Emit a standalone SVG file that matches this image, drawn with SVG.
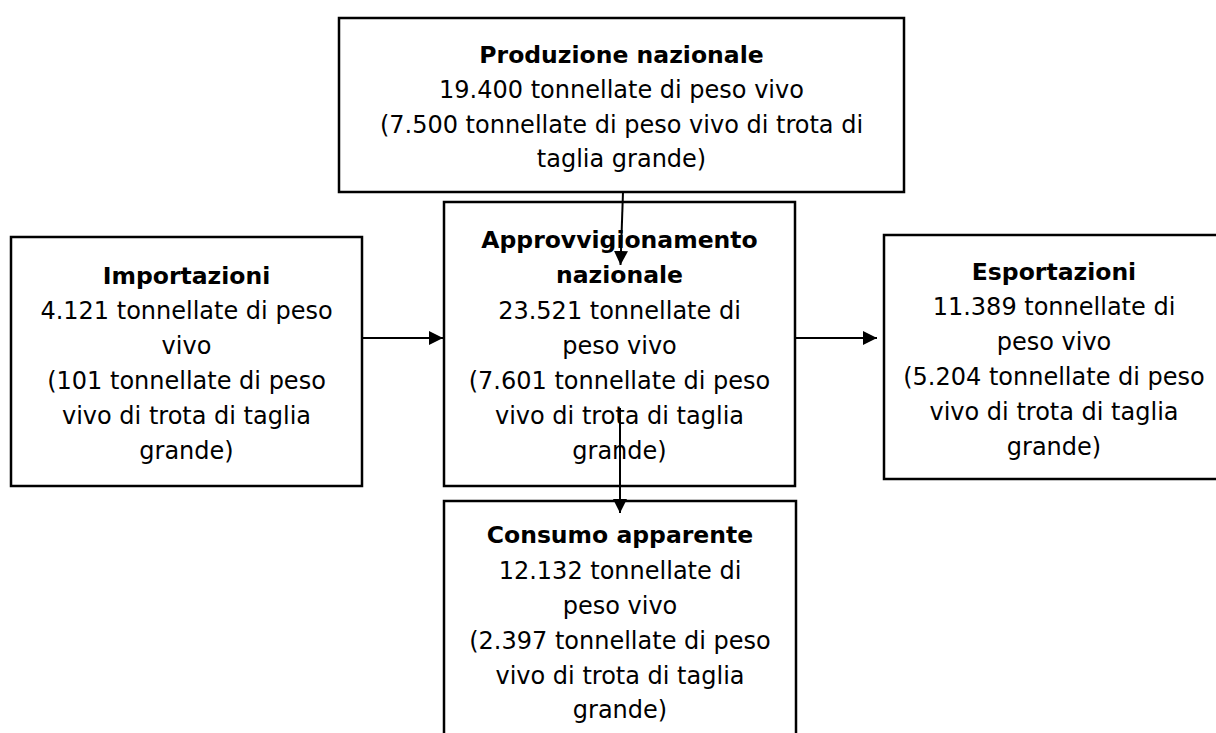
<svg xmlns="http://www.w3.org/2000/svg" width="1216" height="733" viewBox="0 0 1216 733">
<defs>
<style>
.box{fill:#ffffff;stroke:#000000;stroke-width:2.5}
.t{font-family:"DejaVu Sans",sans-serif;font-size:24px;fill:#000;text-anchor:middle}
.b{font-weight:bold;font-size:23.5px}
.c{stroke:#000;stroke-width:2;fill:none}
</style>
<marker id="ah" viewBox="0 0 10 10" refX="10" refY="5" markerWidth="7" markerHeight="7" markerUnits="strokeWidth" orient="auto">
<path d="M0,0 L10,5 L0,10 z" fill="#000"/>
</marker>
</defs>
<rect width="1216" height="733" fill="#ffffff"/>
<g id="produzione">
<rect class="box" x="339" y="18" width="565" height="174"/>
<text class="t b" x="621.5" y="63">Produzione nazionale</text>
<text class="t" x="621.5" y="98">19.400 tonnellate di peso vivo</text>
<text class="t" x="621.5" y="133">(7.500 tonnellate di peso vivo di trota di</text>
<text class="t" x="621.5" y="167">taglia grande)</text>
</g>
<g id="importazioni">
<rect class="box" x="11" y="237" width="351" height="249"/>
<text class="t b" x="186.5" y="284">Importazioni</text>
<text class="t" x="186.5" y="319">4.121 tonnellate di peso</text>
<text class="t" x="186.5" y="354">vivo</text>
<text class="t" x="186.5" y="389">(101 tonnellate di peso</text>
<text class="t" x="186.5" y="424">vivo di trota di taglia</text>
<text class="t" x="186.5" y="459">grande)</text>
</g>
<g id="approvvigionamento">
<rect class="box" x="444" y="202" width="351" height="284"/>
<text class="t b" x="619.5" y="248">Approvvigionamento</text>
<text class="t b" x="619.5" y="283">nazionale</text>
<text class="t" x="619.5" y="319">23.521 tonnellate di</text>
<text class="t" x="619.5" y="354">peso vivo</text>
<text class="t" x="619.5" y="389">(7.601 tonnellate di peso</text>
<text class="t" x="619.5" y="424">vivo di trota di taglia</text>
<text class="t" x="619.5" y="459">grande)</text>
</g>
<g id="esportazioni">
<rect class="box" x="884" y="235" width="340" height="244"/>
<text class="t b" x="1054" y="280">Esportazioni</text>
<text class="t" x="1054" y="315">11.389 tonnellate di</text>
<text class="t" x="1054" y="350">peso vivo</text>
<text class="t" x="1054" y="385">(5.204 tonnellate di peso</text>
<text class="t" x="1054" y="420">vivo di trota di taglia</text>
<text class="t" x="1054" y="455">grande)</text>
</g>
<g id="consumo">
<rect class="box" x="444" y="501" width="352" height="260"/>
<text class="t b" x="620" y="543">Consumo apparente</text>
<text class="t" x="620" y="579">12.132 tonnellate di</text>
<text class="t" x="620" y="614">peso vivo</text>
<text class="t" x="620" y="649">(2.397 tonnellate di peso</text>
<text class="t" x="620" y="684">vivo di trota di taglia</text>
<text class="t" x="620" y="718">grande)</text>
</g>
<g id="connectors">
<line class="c" x1="623" y1="192" x2="620.5" y2="265" marker-end="url(#ah)"/>
<line class="c" x1="362" y1="338" x2="443" y2="338" marker-end="url(#ah)"/>
<line class="c" x1="795" y1="338" x2="877" y2="338" marker-end="url(#ah)"/>
<line class="c" x1="620" y1="408" x2="620" y2="513" marker-end="url(#ah)"/>
</g>
</svg>
